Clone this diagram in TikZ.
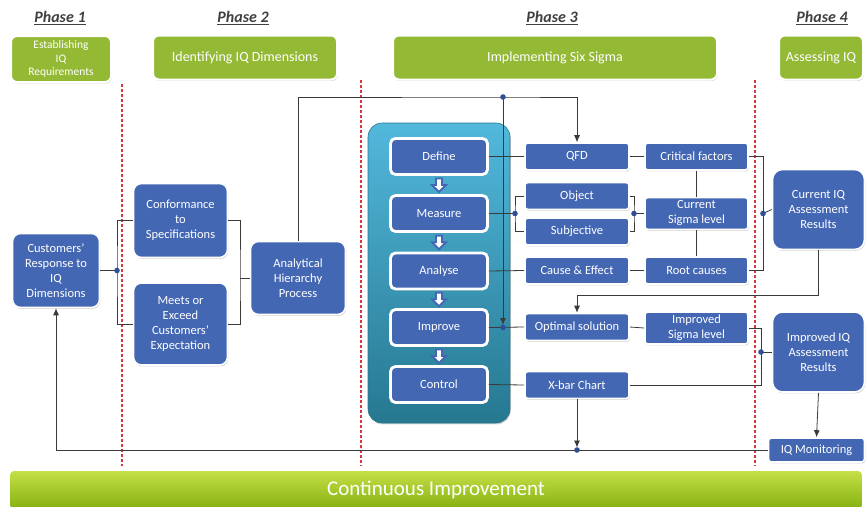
\documentclass[tikz,border=0pt]{standalone}
\usepackage{fontspec}
\setmainfont{Carlito}
\usetikzlibrary{arrows.meta,shadows,calc}
\definecolor{boxblue}{HTML}{4367B3}
\definecolor{leafgreen}{HTML}{93B935}
\definecolor{wiregray}{HTML}{3A3A3A}
\definecolor{dotblue}{HTML}{2F4F95}
\definecolor{phasered}{HTML}{D8373D}
\definecolor{paneltop}{HTML}{52B8DC}
\definecolor{panelmid}{HTML}{3497BA}
\definecolor{panelbot}{HTML}{267890}
\definecolor{bartop}{HTML}{C4E046}
\definecolor{barbot}{HTML}{86B011}
\begin{document}
\begin{tikzpicture}[x=1pt,y=-1pt,
  softshadow/.style={drop shadow={shadow xshift=0.8pt,shadow yshift=-1.4pt,opacity=0.35}},
  bluebox/.style={fill=boxblue,draw=white,line width=1.6pt,text=white,align=center,inner sep=1pt,
    softshadow,font=\fontsize{12.5}{15}\selectfont},
  bigbox/.style={bluebox,rounded corners=8pt},
  smallbox/.style={bluebox,rounded corners=3pt,minimum width=104pt,minimum height=27pt},
  stagebox/.style={bluebox,rounded corners=5pt,line width=2.8pt,minimum width=97pt,minimum height=36pt},
  greenbox/.style={fill=leafgreen,draw=white,line width=2pt,rounded corners=6pt,text=white,align=center,
    softshadow,font=\fontsize{14}{16}\selectfont},
  phase/.style={text=black!75,font=\fontsize{16}{18}\selectfont\bfseries\itshape},
  panel/.style={rounded corners=14pt,minimum width=142pt,minimum height=300pt,
    top color=paneltop,middle color=panelmid,bottom color=panelbot,draw=panelbot,line width=0.6pt,softshadow},
  wire/.style={draw=wiregray,line width=0.8pt},
  arrowed/.style={-{Latex[length=7pt,width=6pt]}},
  jointdot/.style={fill=dotblue},
  redline/.style={draw=phasered,line width=1.3pt,dash pattern=on 3pt off 2pt},
  flowarrow/.style={draw=boxblue,fill=white,line width=1.8pt,line join=miter}
]
\useasboundingbox (0,0) rectangle (867,506);

\node[phase] (p1) at (60,18) {\underline{Phase 1}};
\node[phase] (p2) at (243,18) {\underline{Phase 2}};
\node[phase] (p3) at (552,18) {\underline{Phase 3}};
\node[phase] (p4) at (822,18) {\underline{Phase 4}};

\node[greenbox,minimum width=100pt,minimum height=46pt,font=\fontsize{11.5}{13.5}\selectfont] (req) at (61,59) {Establishing\\IQ\\Requirements};
\node[greenbox,minimum width=184pt,minimum height=44pt] (ident) at (245,57.5) {Identifying IQ Dimensions};
\node[greenbox,minimum width=324pt,minimum height=44pt] (implement) at (555,57.5) {Implementing Six Sigma};
\node[greenbox,minimum width=84pt,minimum height=44pt] (assess) at (821,57.5) {Assessing IQ};

\draw[redline] (122,84) -- (122,466);
\draw[redline] (361,80) -- (361,466);
\draw[redline] (755,80) -- (755,466);

\node[bigbox,minimum width=87pt,minimum height=74pt] (cust) at (56,270.5) {Customers'\\Response to\\IQ\\Dimensions};
\node[bigbox,minimum width=94pt,minimum height=74pt] (conf) at (180.5,220.5) {Conformance\\to\\Specifications};
\node[bigbox,minimum width=94pt,minimum height=82pt] (meets) at (180.5,324) {Meets or\\Exceed\\Customers'\\Expectation};
\node[bigbox,minimum width=95pt,minimum height=73pt] (ahp) at (298,278) {Analytical\\Hierarchy\\Process};

\node[panel] (sixsigma) at (439,273) {};
\node[stagebox] (define) at (439,156.5) {Define};
\node[stagebox] (measure) at (439,213.5) {Measure};
\node[stagebox] (analyse) at (439,271) {Analyse};
\node[stagebox] (improve) at (439,327.5) {Improve};
\node[stagebox] (control) at (439,384.5) {Control};
\foreach \a/\b in {define/measure,measure/analyse,analyse/improve,improve/control}
  \draw[flowarrow] ($(\a.south)!0.5!(\b.north)$) ++(-3,-6.5) -- ++(6,0) -- ++(0,6.5) -- ++(4,0)
    -- ++(-7,7) -- ++(-7,-7) -- ++(4,0) -- cycle;

\node[smallbox] (qfd) at (577,156.5) {QFD};
\node[smallbox] (object) at (577,196) {Object};
\node[smallbox] (subj) at (577,231.5) {Subjective};
\node[smallbox] (cause) at (577,270.5) {Cause \& Effect};
\node[smallbox] (optimal) at (577,327) {Optimal solution};
\node[smallbox] (xbar) at (577,385) {X-bar Chart};

\node[smallbox,minimum width=103pt] (crit) at (696.5,156.5) {Critical factors};
\node[smallbox,minimum width=103pt,minimum height=32pt] (cursig) at (696.5,213.5) {Current\\Sigma level};
\node[smallbox,minimum width=103pt] (root) at (696.5,270.5) {Root causes};
\node[smallbox,minimum width=103pt,minimum height=32pt] (impsig) at (696.5,328) {Improved\\Sigma level};

\node[bigbox,rounded corners=10pt,minimum width=92pt,minimum height=80pt] (curiq) at (818.5,209.5) {Current IQ\\Assessment\\Results};
\node[bigbox,rounded corners=10pt,minimum width=92pt,minimum height=80pt] (impiq) at (818.5,352) {Improved IQ\\Assessment\\Results};
\node[smallbox,minimum width=96pt,minimum height=24pt] (iqmon) at (816.5,450) {IQ Monitoring};

\node[rounded corners=4pt,minimum width=852pt,minimum height=38pt,top color=bartop,bottom color=barbot,
  text=white,font=\fontsize{21}{24}\selectfont] (cont) at (436,490) {Continuous Improvement};

\coordinate (j1) at (117,270.5);
\coordinate (j2) at (240,278);
\coordinate (j3) at (503,97);
\coordinate (j4) at (j3 |- improve.east);
\coordinate (j5) at (515,213.5);
\coordinate (j6) at (634,213.5);
\coordinate (j7) at (763,213.5);
\coordinate (j8) at (761,352);
\coordinate (j9) at (xbar.south |- iqmon.west);
\coordinate (t2) at (577,295);

\draw[wire] (cust.east) -- (j1);
\draw[wire] (conf.west) -| (j1) |- (meets.west);
\draw[wire] (conf.east) -| (j2) |- (meets.east);
\draw[wire] (j2) -- (ahp.west);
\draw[wire,arrowed] (ahp.north) |- (j3) -| (qfd.north);
\draw[wire,arrowed,shorten >=2.5pt] (j3) -- (j4);

\draw[wire] (define.east) -- (qfd.west);
\draw[wire] (measure.east) -- (j5);
\draw[wire] (object.west) -| (j5) |- (subj.west);
\draw[wire] (analyse.east) -- (cause.west);
\draw[wire] (improve.east) -- (optimal.west);
\draw[wire] (control.east) -- (xbar.west);

\draw[wire] (qfd.east) -- (crit.west);
\draw[wire] (object.east) -| (j6) |- (subj.east);
\draw[wire] (j6) -- (cursig.west);
\draw[wire] (cause.east) -- (root.west);
\draw[wire] (crit.south) -- (cursig.north);
\draw[wire] (cursig.south) -- (root.north);
\draw[wire] (optimal.east) -- (impsig.west);

\draw[wire] (crit.east) -| (j7) |- (root.east);
\draw[wire] (j7) -- (curiq.west);
\draw[wire,arrowed] (curiq.south) |- (t2) -- (optimal.north);
\draw[wire] (impsig.east) -| (j8) |- (xbar.east);
\draw[wire] (j8) -- (impiq.west);
\draw[wire,arrowed] (impiq.south) -- (iqmon.north);

\draw[wire,arrowed] (iqmon.west) -| (cust.south);
\draw[wire,arrowed,shorten >=2.5pt] (xbar.south) -- (j9);

\foreach \j in {j1,j3,j4,j5,j6,j7,j8,j9}
  \fill[jointdot] (\j) circle (2.8pt);
\end{tikzpicture}
\end{document}
